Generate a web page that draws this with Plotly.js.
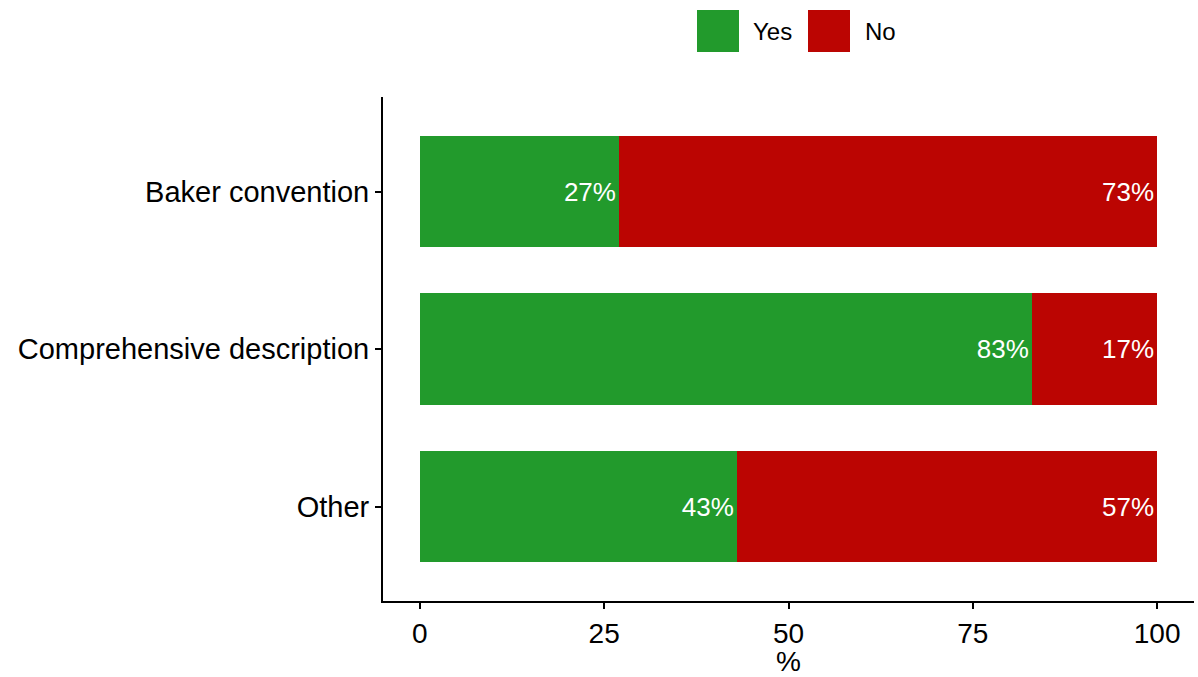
<!DOCTYPE html>
<html>
<head>
<meta charset="utf-8">
<script src="https://cdn.plot.ly/plotly-3.0.1.min.js"></script>
<style>html,body{margin:0;padding:0;background:#fff;}#chart{width:1198px;height:677px;}</style>
</head>
<body>
<div id="chart"></div>
<script>
const categories = ["Baker convention", "Comprehensive description", "Other"];
const seriesNames = ["Yes", "No"];
const yesValues = [27, 83, 43];
const noValues = [73, 17, 57];
const xTicks = [0, 25, 50, 75, 100];
const colors = ["#229A2C", "#BB0502"];

const FONT = "Liberation Sans, Arial, sans-serif";
const W = 1198, H = 677;
const M = {l: 383, r: 4, t: 97, b: 76};
const pw = W - M.l - M.r, ph = H - M.t - M.b;

function mk(vals, name, color) {
  return {
    type: "bar", orientation: "h", name: name,
    x: vals, y: categories,
    marker: {color: color, line: {width: 0}},
    text: vals.map(v => v + "%"),
    textposition: "inside", insidetextanchor: "end",
    textfont: {color: "#ffffff", size: 26, family: FONT},
    constraintext: "none",
    hoverinfo: "skip", showlegend: false
  };
}
const data = [mk(yesValues, seriesNames[0], colors[0]), mk(noValues, seriesNames[1], colors[1])];

// custom legend (large swatches as in the reference)
const px2x = px => (px - M.l) / pw;
const py2y = py => (H - M.b - py) / ph;
const sw = [{x0: 697, text: 753}, {x0: 808, text: 865}];
const shapes = [], annotations = [];
seriesNames.forEach((n, i) => {
  shapes.push({type: "rect", xref: "paper", yref: "paper",
    x0: px2x(sw[i].x0), x1: px2x(sw[i].x0 + 42), y0: py2y(52), y1: py2y(10),
    fillcolor: colors[i], line: {width: 0}});
  annotations.push({xref: "paper", yref: "paper", x: px2x(sw[i].text - 2), y: py2y(31),
    xanchor: "left", yanchor: "middle", text: n, showarrow: false,
    font: {size: 24, color: "#000", family: FONT}});
});

const layout = {
  width: W, height: H,
  margin: M,
  paper_bgcolor: "#fff", plot_bgcolor: "#fff",
  barmode: "stack", bargap: 0.29,
  font: {family: FONT, color: "#000"},
  showlegend: false,
  xaxis: {
    range: [-5, 105], tickvals: xTicks, ticktext: xTicks.map(String),
    showgrid: false, zeroline: false,
    showline: true, linecolor: "#000", linewidth: 2,
    ticks: "outside", ticklen: 6, tickwidth: 2, tickcolor: "#000",
    tickfont: {size: 28, color: "#000", family: FONT},
    title: {text: "%", font: {size: 28, color: "#000", family: FONT}, standoff: 3}
  },
  yaxis: {
    type: "category", categoryorder: "array", categoryarray: categories,
    range: [2.6, -0.6],
    showgrid: false, zeroline: false,
    showline: true, linecolor: "#000", linewidth: 2,
    ticks: "outside", ticklen: 6, tickwidth: 2, tickcolor: "#000",
    tickfont: {size: 29, color: "#000", family: FONT}
  },
  shapes: shapes, annotations: annotations
};

Plotly.newPlot("chart", data, layout, {displayModeBar: false, staticPlot: true});
</script>
</body>
</html>
